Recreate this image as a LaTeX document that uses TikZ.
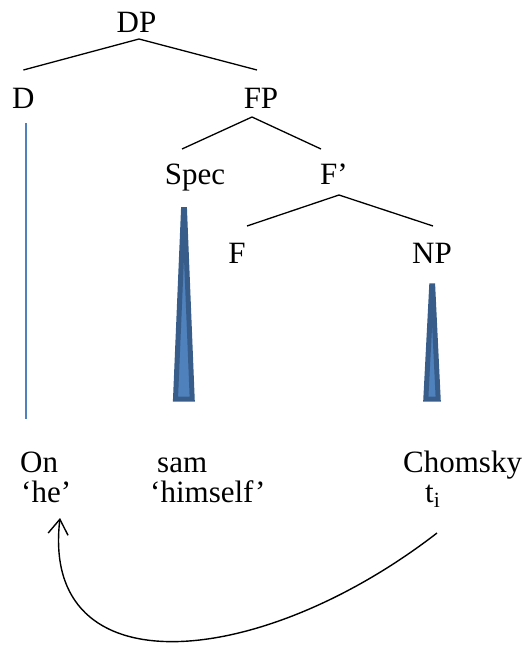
\documentclass[tikz,border=0pt]{standalone}
\usepackage{fontspec}
\setmainfont{Liberation Serif}
\usetikzlibrary{arrows.meta}
\definecolor{trifill}{RGB}{79,129,189}
\definecolor{triedge}{RGB}{56,93,138}

\tikzset{
  lab/.style={anchor=base,inner sep=0pt,font=\fontsize{31}{37}\selectfont},
  word/.style={lab,anchor=base west},
  branch/.style={line width=1.3pt},
  tri/.style={fill=trifill,draw=triedge,line width=5pt,line join=miter,miter limit=10},
  dline/.style={draw=trifill,line width=2pt},
  move/.style={line width=1.4pt,-{Straight Barb[length=15pt,width=20pt]}}
}

\begin{document}
\begin{tikzpicture}[x=1pt,y=-1pt,line cap=butt]
  \useasboundingbox (0,0) rectangle (529,648);
  % tree labels
  \node[lab] (DP) at (136.5,32) {DP};
  \node[lab] (D) at (23.4,108) {D};
  \node[lab] (FP) at (261,108) {FP};
  \node[lab] (Spec) at (195,184) {Spec};
  \node[lab] (Fbar) at (334,184) {F’};
  \node[lab] (F) at (237,263) {F};
  \node[lab] (NP) at (432,263) {NP};
  % words
  \node[word] (On) at (20,472) {On};
  \node[word] (he) at (21,502) {‘he’};
  \node[word] (sam) at (157,472) {sam};
  \node[word] (himself) at (150,502) {‘himself’};
  \node[word] (Chomsky) at (403,472) {Chomsky};
  \node[word] (ti) at (425,502) {t\textsubscript{i}};
  % branches
  \draw[branch] ([yshift=38pt]D.base) -- ([xshift=2.5pt,yshift=-7pt]DP.base)
    -- ([xshift=-4pt,yshift=38pt]FP.base);
  \draw[branch] ([xshift=-13pt,yshift=35pt]Spec.base) -- ([xshift=-9pt,yshift=-9pt]FP.base)
    -- ([xshift=-13pt,yshift=35pt]Fbar.base);
  \draw[branch] ([xshift=10pt,yshift=37pt]F.base) -- ([xshift=5pt,yshift=-11pt]Fbar.base)
    -- ([xshift=1pt,yshift=37pt]NP.base);
  \draw[dline] ([xshift=2.6pt,yshift=-15pt]D.base) -- ([xshift=2.6pt,yshift=-311pt]D.base);
  % triangles
  \draw[tri] (183.5,209.5) -- (184.5,209.5) -- (192.2,399) -- (175.5,399) -- cycle;
  \draw[tri] (431.7,285.8) -- (432.7,285.8) -- (438.2,399.2) -- (425.8,399.2) -- cycle;
  % movement arrow
  \coordinate (trace) at (437,533);
  \coordinate (landing) at (60,518);
  \draw[move] (trace) .. controls (260,670) and (40,690) .. (landing);
\end{tikzpicture}
\end{document}
